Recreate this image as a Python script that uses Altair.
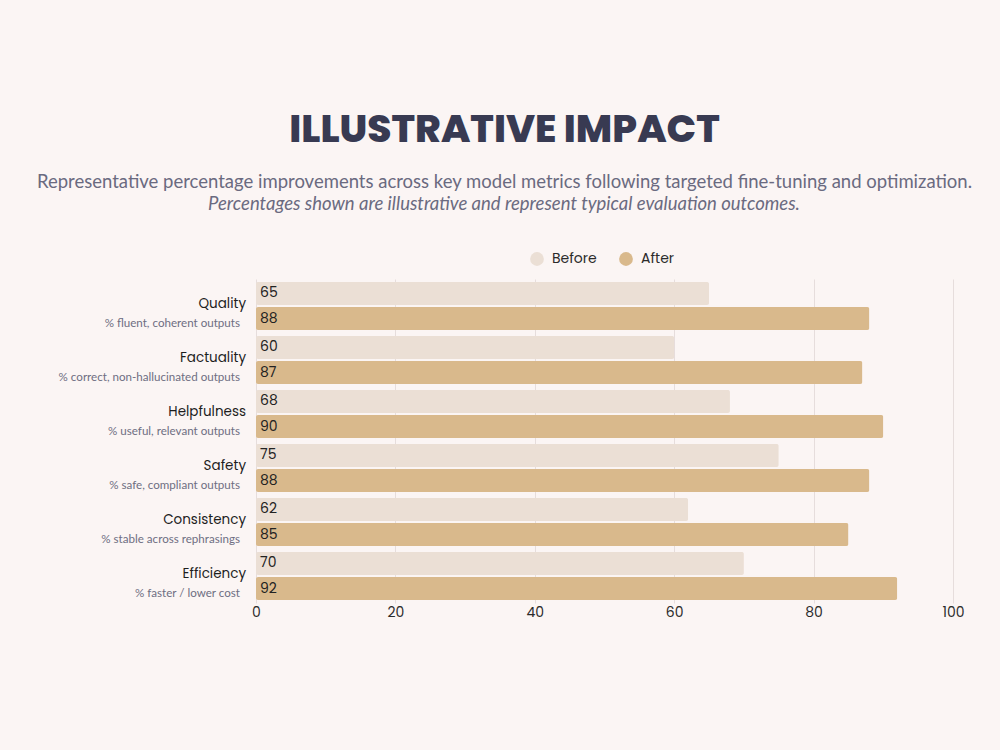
import altair as alt
import pandas as pd

categories = ["Quality", "Factuality", "Helpfulness", "Safety", "Consistency", "Efficiency"]
descriptions = [
    "% fluent, coherent outputs",
    "% correct, non-hallucinated outputs",
    "% useful, relevant outputs",
    "% safe, compliant outputs",
    "% stable across rephrasings",
    "% faster / lower cost",
]
before = [65, 60, 68, 75, 62, 70]
after = [88, 87, 90, 88, 85, 92]
series = ["Before", "After"]
colors = ["#EBDFD5", "#D9B98C"]
note = ["Percentages shown are illustrative and represent typical evaluation outcomes."]

rows = []
for c, b, a in zip(categories, before, after):
    rows.append({"category": c, "series": "Before", "value": b})
    rows.append({"category": c, "series": "After", "value": a})
df = pd.DataFrame(rows)
labels_df = pd.DataFrame({"category": categories, "desc": descriptions})
note_df = pd.DataFrame({"note": note})

yscale = alt.Scale(domain=categories, paddingInner=0.11, paddingOuter=0.055)
yoff = alt.YOffset("series:N", sort=series, scale=alt.Scale(domain=series, paddingInner=0.08))

base = alt.Chart(df)

bars = base.mark_bar(cornerRadius=2).encode(
    y=alt.Y("category:N", sort=categories, scale=yscale, axis=None),
    yOffset=yoff,
    x=alt.X("value:Q", scale=alt.Scale(domain=[0, 100]),
            axis=alt.Axis(values=[0, 20, 40, 60, 80, 100], title=None, domain=False, ticks=False,
                          grid=True, gridColor="#E6DDDC", gridWidth=1, labelPadding=2,
                          labelFlush=False,
                          labelFont="Poppins", labelFontSize=14, labelColor="#2B2B2B")),
    color=alt.Color("series:N", sort=series, scale=alt.Scale(domain=series, range=colors),
                    legend=alt.Legend(title=None, orient="none", legendX=274, legendY=-27,
                                      direction="horizontal", symbolType="circle", symbolSize=190,
                                      symbolStrokeWidth=0, labelFont="Poppins",
                                      labelFontSize=14, labelColor="#2B2B2B", columnPadding=22,
                                      symbolOffset=0, labelOffset=8)),
)

values = base.mark_text(align="left", baseline="middle", font="Poppins",
                        fontSize=14, color="#222222").encode(
    y=alt.Y("category:N", sort=categories, scale=yscale, axis=None),
    yOffset=yoff,
    x=alt.value(4),
    text="value:Q",
)

names = alt.Chart(labels_df).mark_text(align="right", baseline="middle", dy=-2,
                                       font="Poppins", fontSize=13.5, color="#1E1E1E").encode(
    y=alt.Y("category:N", sort=categories, scale=yscale, axis=None),
    x=alt.value(-10),
    text="category:N",
)

descs = alt.Chart(labels_df).mark_text(align="right", baseline="middle", dy=18,
                                       font="Lato", fontSize=11.6, color="#6E6E82").encode(
    y=alt.Y("category:N", sort=categories, scale=yscale, axis=None),
    x=alt.value(-16),
    text="desc:N",
)

note_text = alt.Chart(note_df).mark_text(align="center", baseline="middle", font="Lato",
                                         fontSize=18.5, fontStyle="italic",
                                         color="#6A6A80").encode(
    x=alt.value(248),
    y=alt.value(-75),
    text="note:N",
)

chart = alt.layer(bars, values, names, descs, note_text).properties(
    width=697,
    height=324,
    background="#FBF5F4",
    padding={"left": 256, "top": 279, "right": 47, "bottom": 147},
    autosize=alt.AutoSizeParams(type="none"),
    title=alt.TitleParams(
        text="ILLUSTRATIVE IMPACT",
        subtitle="Representative percentage improvements across key model metrics following targeted fine-tuning and optimization.",
        anchor="middle",
        dx=-100,
        font="Poppins",
        fontSize=39,
        fontWeight=800,
        color="#383A52",
        subtitleFont="Lato",
        subtitleFontSize=18.5,
        subtitleColor="#6A6A80",
        subtitlePadding=23,
        offset=4,
    ),
).configure_view(stroke=None)

chart.save("out.html", embed_options={"renderer": "svg", "actions": False})
